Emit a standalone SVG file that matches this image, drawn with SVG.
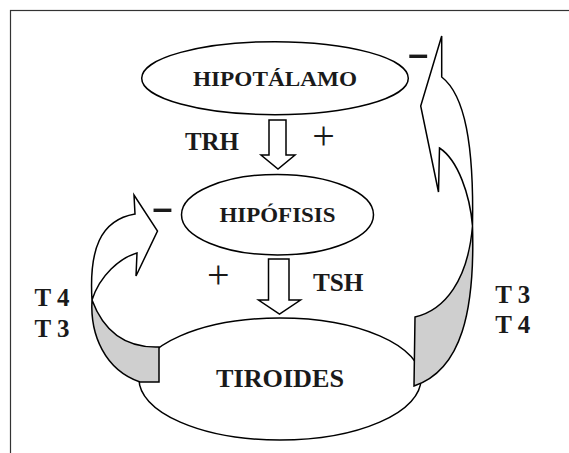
<svg xmlns="http://www.w3.org/2000/svg" width="569" height="453" viewBox="0 0 569 453">
<style>
.ln{stroke:#000;stroke-width:1.5;fill:#fff;stroke-linejoin:miter}
.gr{stroke:#000;stroke-width:1.5;fill:#cfcfcf;stroke-linejoin:miter}
.t{font-family:"Liberation Serif","Times New Roman",serif;font-weight:bold;fill:#1a1a1a}
.p{font-family:"Liberation Serif","Times New Roman",serif;font-weight:normal;fill:#1a1a1a;text-anchor:middle}
.d{font-family:"Liberation Serif","Times New Roman",serif;font-weight:bold;fill:#1a1a1a;text-anchor:middle}
</style>
<rect x="10.5" y="10.5" width="600" height="500" fill="#fff" stroke="#333" stroke-width="1.2"/>
<g id="hipotalamo">
<ellipse class="ln" cx="275" cy="78.2" rx="133.3" ry="36.5"/>
<text class="t" x="193" y="86" font-size="21.5" textLength="164" lengthAdjust="spacingAndGlyphs">HIPOTÁLAMO</text>
</g>
<g id="hipofisis">
<ellipse class="ln" cx="277.5" cy="214.7" rx="96" ry="40.3"/>
<text class="t" x="219.5" y="221.7" font-size="22" textLength="116" lengthAdjust="spacingAndGlyphs">HIPÓFISIS</text>
</g>
<g id="tiroides">
<ellipse class="ln" cx="280" cy="379" rx="141" ry="61"/>
<text class="t" x="216" y="387" font-size="25.5" textLength="128" lengthAdjust="spacingAndGlyphs">TIROIDES</text>
</g>
<g id="connectors">
<g id="trh-arrow">
<path class="ln" d="M269 120 L286 120 L286 155 L295 155 L278 169 L261 155 L269 155 Z"/>
<text class="t" x="185" y="150" font-size="25" textLength="54" lengthAdjust="spacingAndGlyphs">TRH</text>
<text class="p" x="323.5" y="149" font-size="40">+</text>
</g>
<g id="tsh-arrow">
<path class="ln" d="M268.5 259 L289 259 L289 300 L300.5 300 L279.5 314 L258.5 300 L268.5 300 Z"/>
<text class="t" x="313" y="290.7" font-size="25" textLength="50.5" lengthAdjust="spacingAndGlyphs">TSH</text>
<text class="p" x="218.4" y="287.5" font-size="40">+</text>
</g>
<g id="left-feedback">
<path class="gr" d="M92 300 C90 335 105 370 140 382 L159 382 L159 347 C130 348 105 335 92 300 Z"/>
<path class="ln" d="M92 300 C89 250 100 220 135 214 L134 195 L157.5 231 L136 276 L137 253 C120 258 100 275 92 300 Z"/>
<text class="d" transform="translate(162.5 211.7) scale(1.72 1)" x="0" y="8.4" font-size="40">-</text>
<text class="t" x="34.5" y="306" font-size="25">T 4</text>
<text class="t" x="34.5" y="336.7" font-size="25">T 3</text>
</g>
<g id="right-feedback">
<path class="gr" d="M472.5 226 C475 310 462 370 414 386 L415 317 C445 310 468 280 472.5 226 Z"/>
<path class="ln" d="M441.7 36 L441.7 77 C465 95 474 145 472.5 226 C470 195 458 160 439.5 148 L438.5 192 L420.7 106 Z"/>
<text class="d" transform="translate(418.3 57.3) scale(1.72 1)" x="0" y="8.4" font-size="40">-</text>
<text class="t" x="495.3" y="303" font-size="25">T 3</text>
<text class="t" x="495.3" y="333" font-size="25">T 4</text>
</g>
</g>
</svg>
